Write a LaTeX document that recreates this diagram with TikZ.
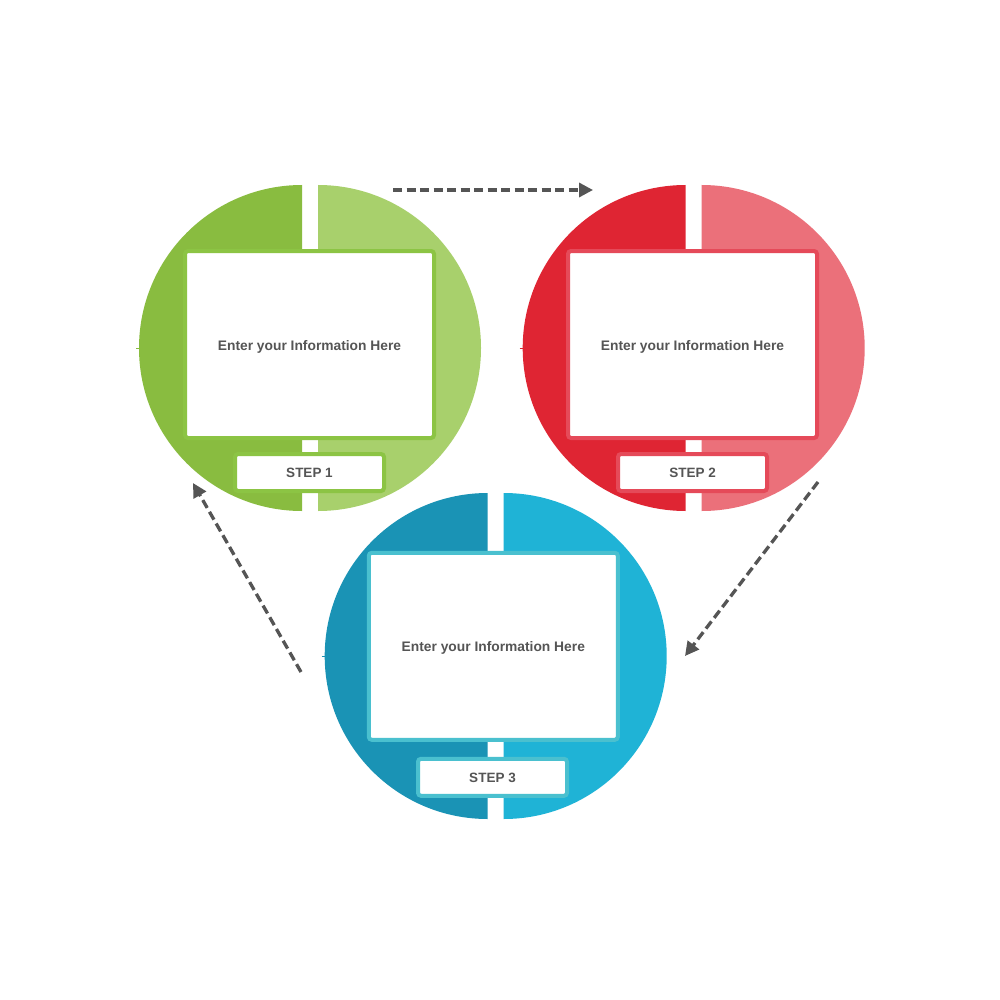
\documentclass[tikz,border=0pt]{standalone}
\usepackage{fontspec}
\setmainfont{Liberation Sans}
\usetikzlibrary{arrows.meta}
\definecolor{gA}{HTML}{89BC40}
\definecolor{gB}{HTML}{A8D06C}
\definecolor{gC}{HTML}{8CC444}
\definecolor{rA}{HTML}{DF2533}
\definecolor{rB}{HTML}{EB707A}
\definecolor{rC}{HTML}{E54A59}
\definecolor{tA}{HTML}{1A93B5}
\definecolor{tB}{HTML}{1FB3D6}
\definecolor{tC}{HTML}{4AC0CF}
\definecolor{txt}{HTML}{555555}
\newcommand{\lowered}[2]{\raisebox{-#1}[\height][\depth]{#2}}
\tikzset{
  infobox/.style={draw=#1, fill=white, line width=4pt, rounded corners=3pt,
    minimum width=249pt, minimum height=187pt, inner sep=0pt,
    font=\bfseries\fontsize{13.8}{16}\selectfont, text=txt},
  stepbox/.style={draw=#1, fill=white, line width=4pt, rounded corners=3pt,
    minimum width=149pt, minimum height=37pt, inner sep=0pt,
    font=\bfseries\fontsize{13.5}{16}\selectfont, text=txt},
  flowarrow/.style={draw=txt, line width=3.3pt, dash pattern=on 9pt off 4.5pt,
    -{Triangle[length=14pt,width=14pt]}},
}
\newcommand{\splitdisc}[5]{%
  % #1 cx, #2 cy, #3 left colour, #4 right colour, #5 tick x
  \begin{scope}
    \clip (#1-8-200,#2-200) rectangle (#1-8,#2+200);
    \fill[#3] (#1-8,#2) circle[radius=163];
  \end{scope}
  \begin{scope}
    \clip (#1+8,#2-200) rectangle (#1+8+200,#2+200);
    \fill[#4] (#1+8,#2) circle[radius=163];
  \end{scope}
  \draw[#3, line width=1pt] (#5,#2) -- (#5+4,#2);
}
\begin{document}
\begin{tikzpicture}[x=1pt,y=-1pt]
\useasboundingbox[fill=white] (0,0) rectangle (1000,1000);

\splitdisc{310}{348}{gA}{gB}{136}
\splitdisc{693.7}{348}{rA}{rB}{519.5}
\splitdisc{495.7}{656}{tA}{tB}{321.5}

\node[infobox=gC] (info1) at (309.5,344.5) {\lowered{2pt}{Enter your Information Here}};
\node[stepbox=gC] (step1) at (309.5,472.5) {STEP 1};

\node[infobox=rC] (info2) at (692.5,344.5) {\lowered{2pt}{Enter your Information Here}};
\node[stepbox=rC] (step2) at (692.5,472.5) {STEP 2};

\node[infobox=tC] (info3) at (493.3,646.3) {\lowered{2pt}{Enter your Information Here}};
\node[stepbox=tC] (step3) at (492.5,777.3) {\lowered{1pt}{STEP 3}};

\coordinate (a1s) at (393,190);
\coordinate (a1e) at (593,190);
\coordinate (a2s) at (818,482);
\coordinate (a2e) at (685,656);
\coordinate (a3s) at (301,672);
\coordinate (a3e) at (193,483);

\draw[flowarrow] (a1s) -- (a1e);
\draw[flowarrow] (a2s) -- (a2e);
\draw[flowarrow] (a3s) -- (a3e);
\end{tikzpicture}
\end{document}
